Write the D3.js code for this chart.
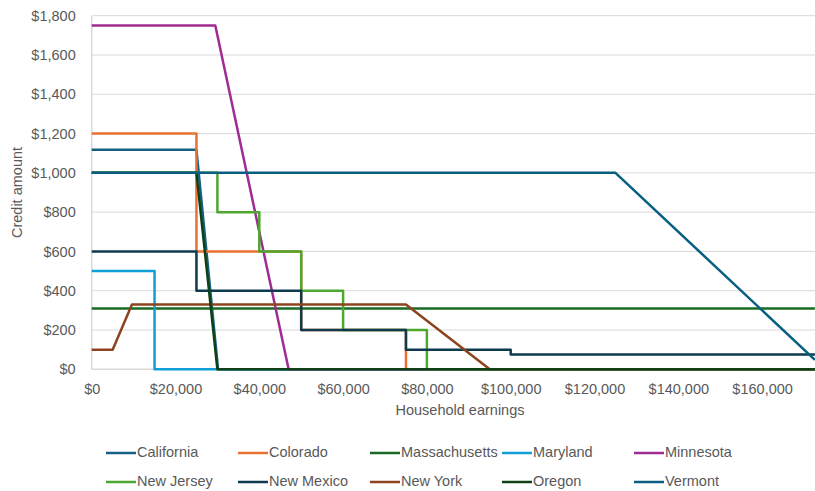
<!DOCTYPE html>
<html>
<head>
<meta charset="utf-8">
<script src="https://cdn.jsdelivr.net/npm/d3@7"></script>
<style>
  body { margin: 0; background: #fff; }
  text { font-family: "Liberation Sans", Arial, sans-serif; fill: #595959; }
</style>
</head>
<body>
<svg id="chart" width="815" height="491"></svg>
<script>
// Axis ticks
const xTicks = [0, 20000, 40000, 60000, 80000, 100000, 120000, 140000, 160000];
const yTicks = [0, 200, 400, 600, 800, 1000, 1200, 1400, 1600, 1800];
const xMax = 172600;

// State child tax credit by household earnings: [earnings, credit]
const california    = [[0, 1117], [25000, 1117], [30160, 0], [172600, 0]];
const colorado      = [[0, 1200], [25000, 1200], [25000, 600], [50000, 600], [50000, 200], [75000, 200],
                       [75000, 0], [172600, 0]];
const massachusetts = [[0, 310], [172600, 310]];
const maryland      = [[0, 500], [15000, 500], [15000, 0], [172600, 0]];
const minnesota     = [[0, 1750], [29500, 1750], [47000, 0], [172600, 0]];
const newJersey     = [[0, 1000], [30000, 1000], [30000, 800], [40000, 800], [40000, 600], [50000, 600],
                       [50000, 400], [60000, 400], [60000, 200], [80000, 200], [80000, 0], [172600, 0]];
const newMexico     = [[0, 600], [25000, 600], [25000, 400], [50000, 400], [50000, 200], [75000, 200],
                       [75000, 100], [100000, 100], [100000, 75], [172600, 75]];
const newYork       = [[0, 100], [5000, 100], [9600, 330], [75000, 330], [95000, 0], [172600, 0]];
const oregon        = [[0, 1000], [25000, 1000], [30000, 0], [172600, 0]];
const vermont       = [[0, 1000], [125000, 1000], [172600, 48]];

const stateNames = ["California", "Colorado", "Massachusetts", "Maryland", "Minnesota",
                    "New Jersey", "New Mexico", "New York", "Oregon", "Vermont"];
const stateValues = [california, colorado, massachusetts, maryland, minnesota,
                     newJersey, newMexico, newYork, oregon, vermont];
const stateColors = ["#156082", "#E97132", "#196B24", "#0F9ED5", "#A02B93",
                     "#4EA72E", "#0D3A4E", "#8C441E", "#0F4016", "#095F80"];

const svg = d3.select("#chart");
const plot = { left: 91.7, right: 814.9, top: 15.7, bottom: 369.3 };

const x = d3.scaleLinear().domain([0, xMax]).range([plot.left, plot.right]);
const y = d3.scaleLinear().domain([0, 1800]).range([plot.bottom, plot.top]);
const money = d3.format("$,");

// Horizontal gridlines
svg.append("g")
  .selectAll("line")
  .data(yTicks.filter(d => d > 0))
  .join("line")
  .attr("x1", plot.left).attr("x2", plot.right)
  .attr("y1", d => y(d)).attr("y2", d => y(d))
  .attr("stroke", "#d9d9d9").attr("stroke-width", 1);

// Axis lines
svg.append("line")
  .attr("x1", plot.left).attr("x2", plot.left)
  .attr("y1", plot.top).attr("y2", plot.bottom)
  .attr("stroke", "#d9d9d9").attr("stroke-width", 1.5);
svg.append("line")
  .attr("x1", plot.left).attr("x2", plot.right)
  .attr("y1", plot.bottom).attr("y2", plot.bottom)
  .attr("stroke", "#d9d9d9").attr("stroke-width", 1.5);

// Y tick labels
const yAxis = d3.axisLeft(y).tickValues(yTicks).tickFormat(money).tickSize(0).tickPadding(16);
const gy = svg.append("g").attr("transform", `translate(${plot.left},0)`).call(yAxis);
gy.select(".domain").remove();
gy.selectAll("text").attr("font-size", "14.5px").attr("fill", "#595959")
  .attr("font-family", "Liberation Sans, Arial, sans-serif");

// X tick labels
const xAxis = d3.axisBottom(x).tickValues(xTicks).tickFormat(money).tickSize(0).tickPadding(14);
const gx = svg.append("g").attr("transform", `translate(0,${plot.bottom})`).call(xAxis);
gx.select(".domain").remove();
gx.selectAll("text").attr("font-size", "14.5px").attr("fill", "#595959")
  .attr("font-family", "Liberation Sans, Arial, sans-serif");

// Axis titles
svg.append("text")
  .attr("x", 460).attr("y", 411)
  .attr("text-anchor", "middle").attr("dominant-baseline", "middle")
  .attr("font-size", "14.5px")
  .text("Household earnings");
svg.append("text")
  .attr("transform", `translate(18,${(plot.top + plot.bottom) / 2}) rotate(-90)`)
  .attr("text-anchor", "middle").attr("dominant-baseline", "middle")
  .attr("font-size", "14.5px")
  .text("Credit amount");

// Series lines
const line = d3.line().x(d => x(d[0])).y(d => y(d[1]));
svg.append("g")
  .selectAll("path")
  .data(stateValues)
  .join("path")
  .attr("d", line)
  .attr("fill", "none")
  .attr("stroke", (d, i) => stateColors[i])
  .attr("stroke-width", 2.5)
  .attr("stroke-linejoin", "round");

// Legend: two rows of five
const legend = svg.append("g")
  .selectAll("g")
  .data(stateNames)
  .join("g")
  .attr("transform", (d, i) => `translate(${106 + (i % 5) * 132},${i < 5 ? 453 : 482})`);
legend.append("line")
  .attr("x1", 0).attr("x2", 30).attr("y1", 0).attr("y2", 0)
  .attr("stroke", (d, i) => stateColors[i]).attr("stroke-width", 2.5);
legend.append("text")
  .attr("x", 31).attr("y", 0)
  .attr("dominant-baseline", "middle")
  .attr("font-size", "14.5px")
  .text(d => d);
</script>
</body>
</html>
